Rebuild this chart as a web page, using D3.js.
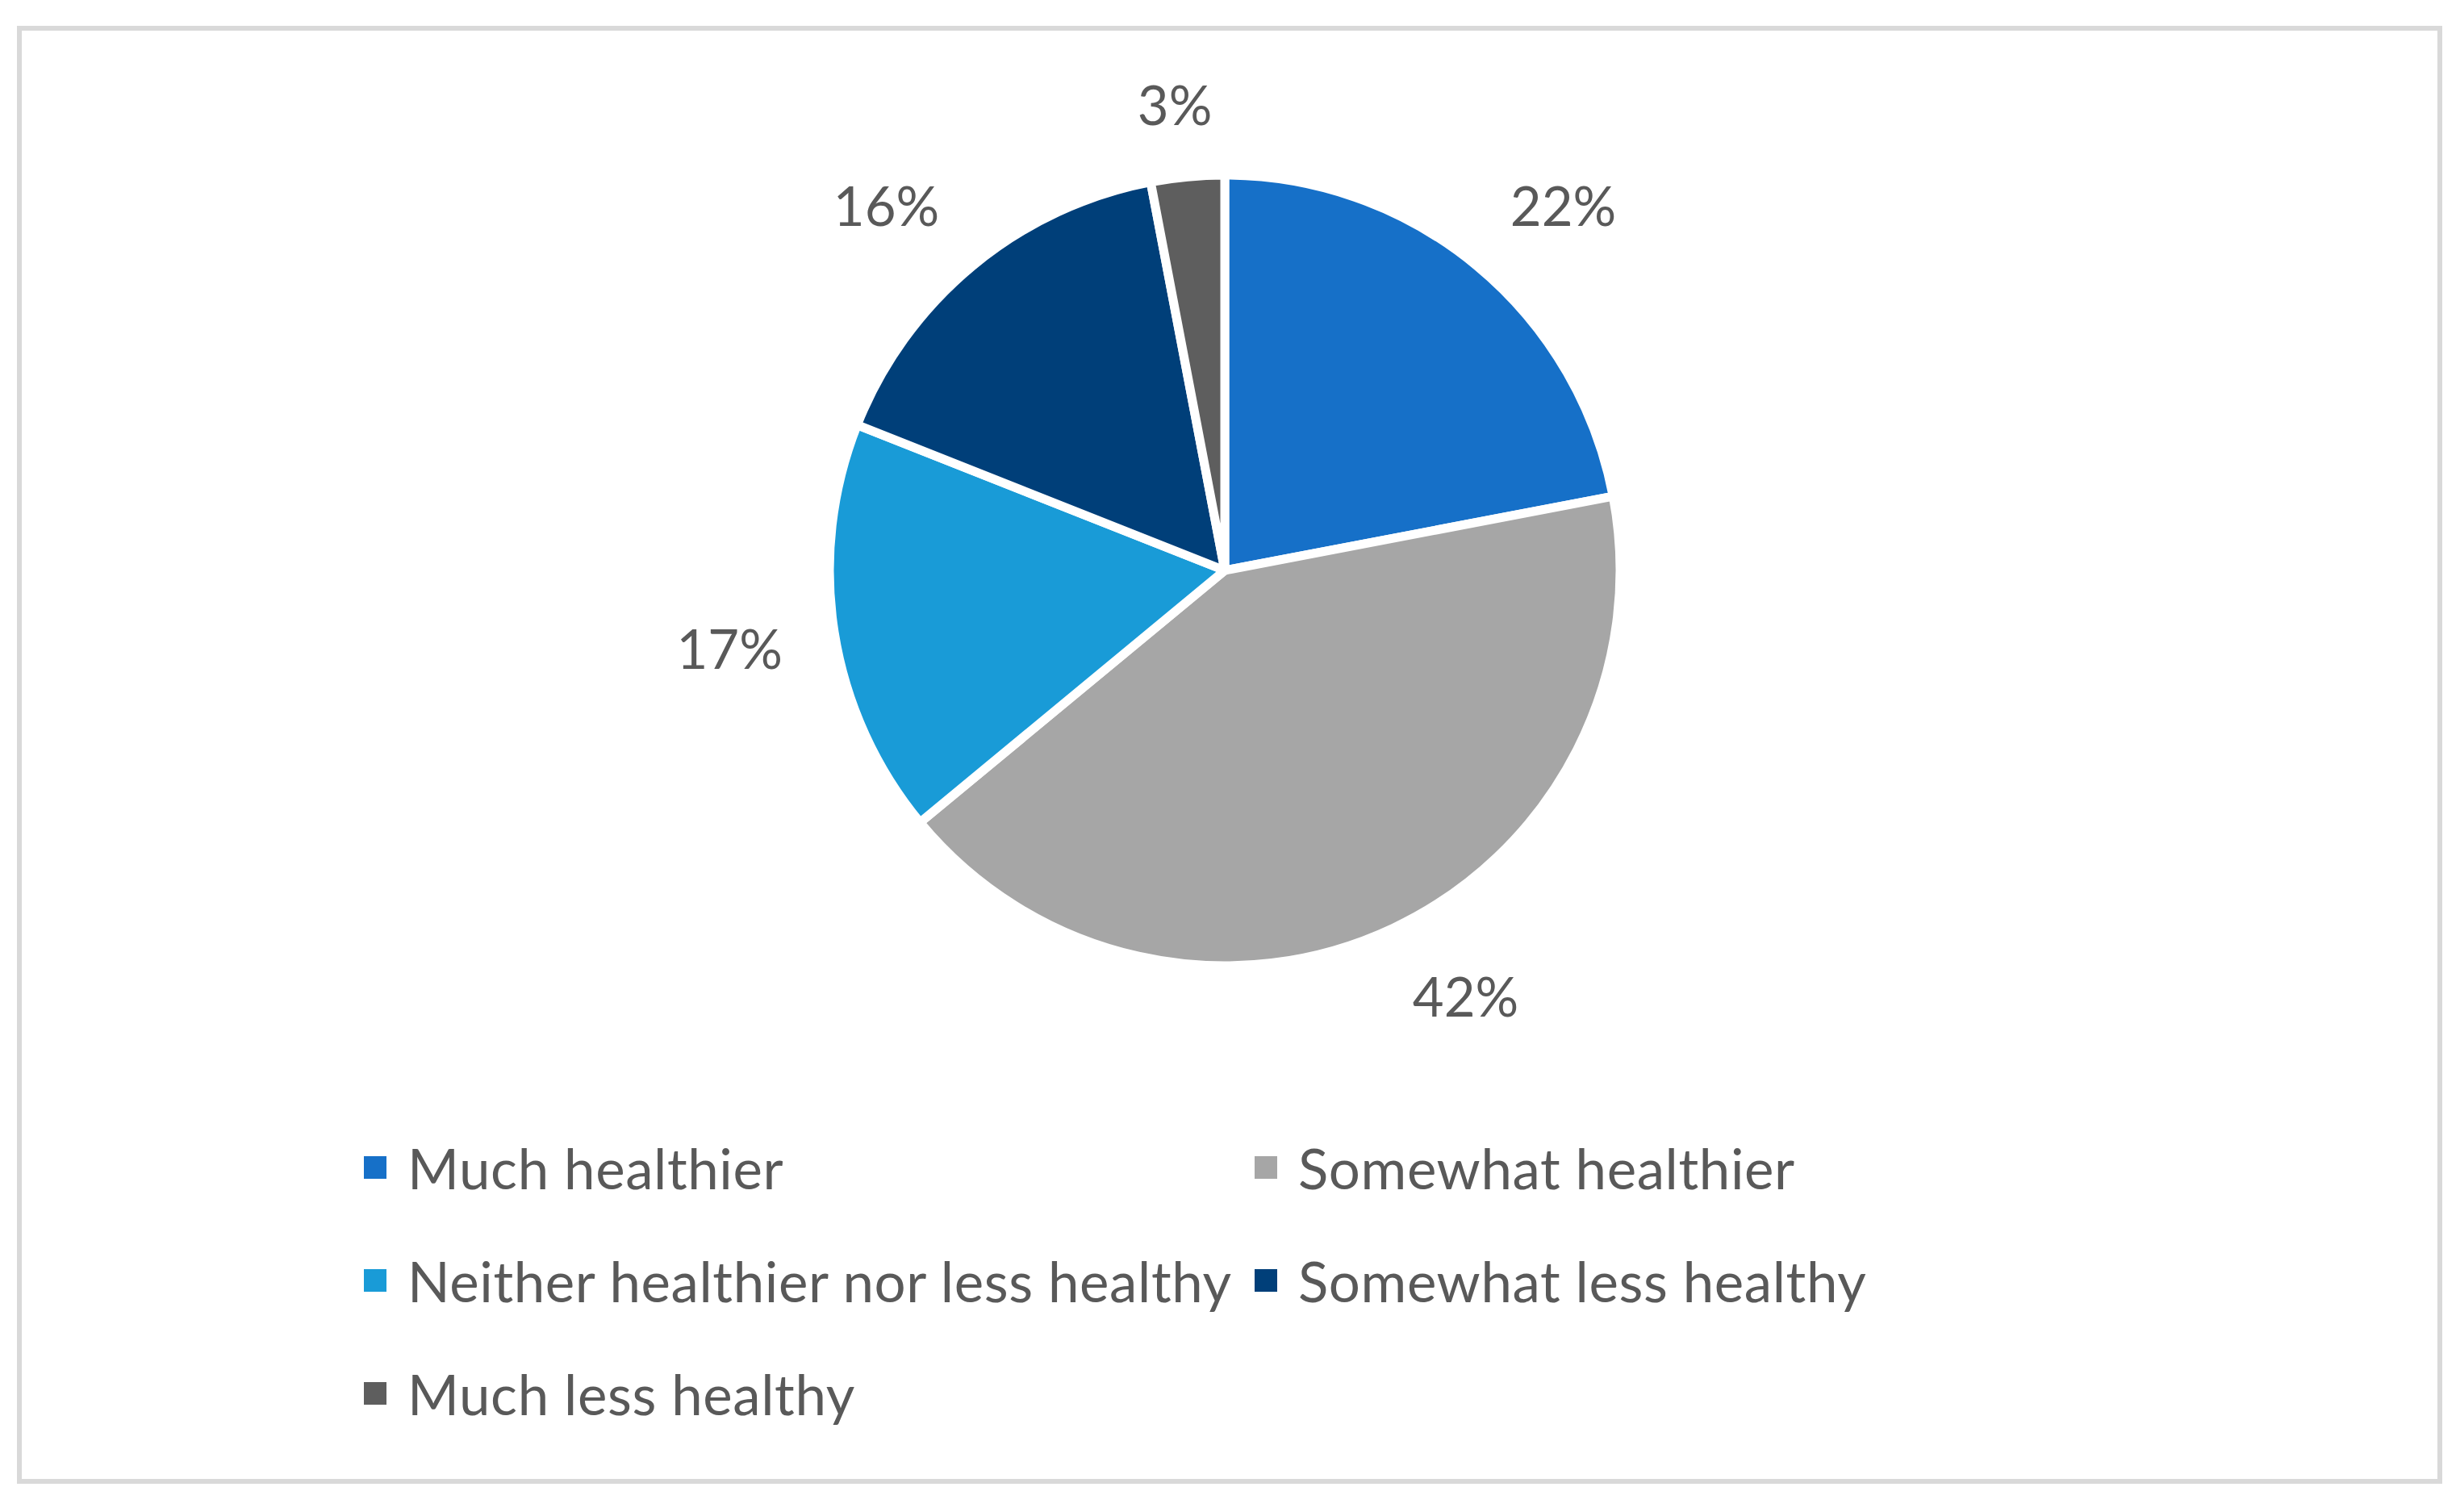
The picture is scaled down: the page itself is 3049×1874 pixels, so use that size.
<!DOCTYPE html>
<html>
<head>
<meta charset="utf-8">
<script src="https://cdn.jsdelivr.net/npm/d3@7"></script>
<style>
  html, body { margin: 0; padding: 0; background: #ffffff; }
  svg { display: block; }
  text { font-family: Lato, "Open Sans", sans-serif; fill: #595959; }
</style>
</head>
<body>
<svg id="chart" width="3049" height="1874"></svg>
<script>
// ---- data ----
const categories = [
  "Much healthier",
  "Somewhat healthier",
  "Neither healthier nor less healthy",
  "Somewhat less healthy",
  "Much less healthy"
];
const values = [22, 42, 17, 16, 3];
const valueLabels = ["22%", "42%", "17%", "16%", "3%"];
const colors = ["#1670C8", "#A6A6A6", "#199BD7", "#003F79", "#5E5E5E"];

// ---- layout ----
const cx = 1518, cy = 707, R = 490;
const labelFont = 67, legendFont = 69;

const svg = d3.select("#chart");

// outer frame
svg.append("rect")
  .attr("x", 24).attr("y", 35)
  .attr("width", 3000).attr("height", 1801)
  .attr("fill", "#ffffff")
  .attr("stroke", "#d9d9d9")
  .attr("stroke-width", 6);

const data = categories.map((c, i) => ({ cat: c, value: values[i], label: valueLabels[i], color: colors[i] }));

const pie = d3.pie().value(d => d.value).sort(null).startAngle(0).endAngle(2 * Math.PI);
const arcs = pie(data);
const arc = d3.arc().innerRadius(0).outerRadius(R);

const g = svg.append("g").attr("transform", `translate(${cx},${cy})`);

g.selectAll("path.slice")
  .data(arcs)
  .enter().append("path")
  .attr("class", "slice")
  .attr("d", arc)
  .attr("fill", d => d.data.color)
  .attr("stroke", "#ffffff")
  .attr("stroke-width", 11)
  .attr("stroke-linejoin", "round");

// data labels, outside end: the inner corner of the label box sits just outside the arc
const labels = g.selectAll("text.lbl")
  .data(arcs)
  .enter().append("text")
  .attr("class", "lbl")
  .attr("font-size", labelFont)
  .attr("text-anchor", "middle")
  .attr("dominant-baseline", "central")
  .text(d => d.data.label);

const rho = R + 65;
labels.each(function(d) {
  const a = (d.startAngle + d.endAngle) / 2;
  const bb = this.getBBox();
  const hw = bb.width / 2, hh = 25;
  const dx = Math.sin(a), dy = -Math.cos(a);
  const ox = hw * Math.sign(dx) * Math.min(1, Math.abs(dx) / 0.45);
  const oy = hh * Math.sign(dy) * Math.min(1, Math.abs(dy) / 0.45);
  d3.select(this).attr("x", rho * dx + ox).attr("y", rho * dy + oy);
});

// legend
const legendCols = [451, 1555];
const legendRows = [1447, 1587, 1727];
const sq = 28;
const legend = svg.append("g").attr("class", "legend");
data.forEach((d, i) => {
  const col = i % 2, row = Math.floor(i / 2);
  const x = legendCols[col], y = legendRows[row];
  legend.append("rect")
    .attr("x", x).attr("y", y - sq / 2)
    .attr("width", sq).attr("height", sq)
    .attr("fill", d.color);
  legend.append("text")
    .attr("x", x + 54).attr("y", y)
    .attr("font-size", legendFont)
    .attr("letter-spacing", 0.6)
    .attr("dominant-baseline", "central")
    .text(d.cat);
});
</script>
</body>
</html>
